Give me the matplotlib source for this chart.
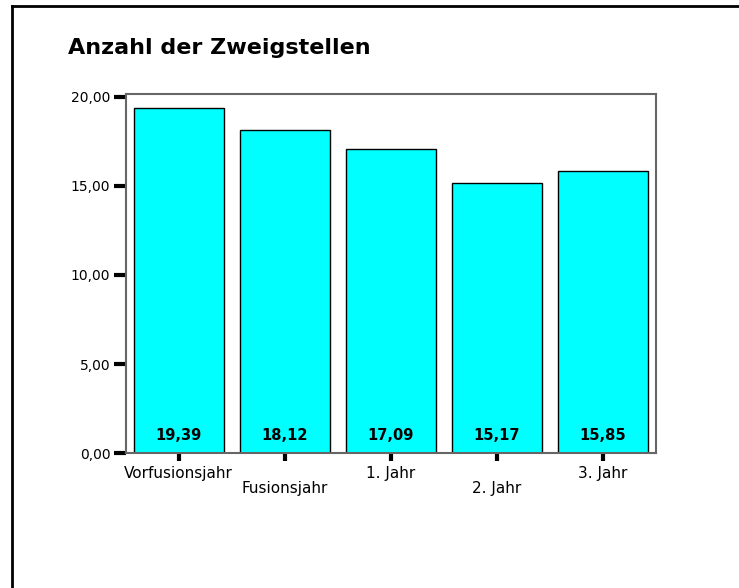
import matplotlib.pyplot as plt
from matplotlib.lines import Line2D
from matplotlib.ticker import FuncFormatter

# DejaVu is wider than Arial, which is closer to the stretched look of the original
plt.rcParams['font.family'] = ['DejaVu Sans']

# Chart data
categories = ["Vorfusionsjahr", "Fusionsjahr", "1. Jahr", "2. Jahr", "3. Jahr"]
values = [19.39, 18.12, 17.09, 15.17, 15.85]
title = "Anzahl der Zweigstellen"
y_ticks = [0, 5, 10, 15, 20]


def de_fmt(v, pos=None):
    return f"{v:.2f}".replace(".", ",")


fig = plt.figure(figsize=(7.39, 5.88), dpi=100)
ax = fig.add_axes([0.1701, 0.2291, 0.7172, 0.6105])

x = list(range(len(categories)))
ax.bar(x, values, width=0.85, color="#00FFFF", edgecolor="black", linewidth=1.0, zorder=2)

for xi, v in zip(x, values):
    ax.text(xi, 1.0, de_fmt(v), ha="center", va="center", fontsize=10.5,
            fontweight="bold", color="black", zorder=3)

ax.set_xlim(-0.5, len(categories) - 0.5)
ax.set_ylim(0, 20.13)

ax.set_yticks(y_ticks)
ax.yaxis.set_major_formatter(FuncFormatter(de_fmt))

# alternate labels on two rows
ax.set_xticks(x)
ax.set_xticklabels([c if i % 2 == 0 else "\n" + c for i, c in enumerate(categories)],
                   linespacing=1.05, fontsize=11)

ax.tick_params(axis="both", direction="out", width=3, color="black")
ax.tick_params(axis="x", length=6, pad=3)
ax.tick_params(axis="y", length=9, pad=2, labelsize=10)

for side in ["top", "right", "left", "bottom"]:
    ax.spines[side].set_color("#666666")
    ax.spines[side].set_linewidth(1.5)

fig.text(68 / 739, 1 - 48 / 588, title, fontsize=16, fontweight="bold",
         ha="left", va="center")

# outer frame (only left and top edges visible)
fx = 12 / 739
fy = 1 - 5.5 / 588
fig.add_artist(Line2D([fx, fx], [0, fy], transform=fig.transFigure, color="black", lw=2))
fig.add_artist(Line2D([fx, 1], [fy, fy], transform=fig.transFigure, color="black", lw=2))

plt.savefig("out.png", dpi=100)
